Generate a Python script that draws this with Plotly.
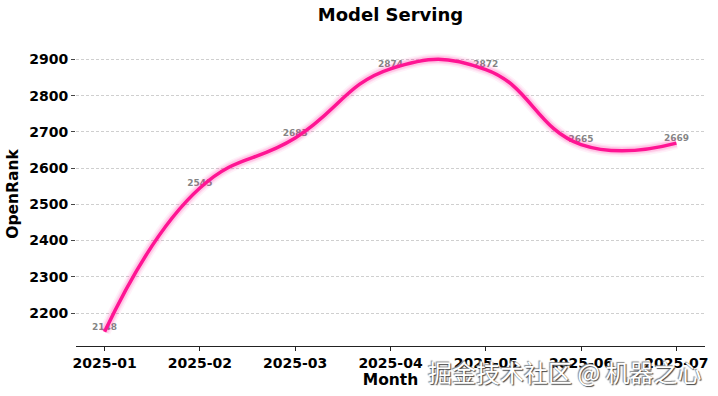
import plotly.graph_objects as go

months = ["2025-01", "2025-02", "2025-03", "2025-04", "2025-05", "2025-06", "2025-07"]
openrank = [2148, 2545, 2683, 2874, 2872, 2665, 2669]
y_ticks = [2200, 2300, 2400, 2500, 2600, 2700, 2800, 2900]

FONT = "DejaVu Sans"
PINK = "#FF1493"
L, R, T, B = 76, 705, 42, 346

fig = go.Figure()

# value labels (drawn under the line)
fig.add_trace(go.Scatter(
    x=months, y=openrank, mode="text",
    text=[str(v) for v in openrank], textposition="top center",
    textfont=dict(family=FONT, size=9, color="rgba(110,110,110,0.85)", weight="bold"),
    hoverinfo="skip", showlegend=False,
))

# glow layers
for w, a in [(12, 0.06), (9, 0.08), (7, 0.12)]:
    fig.add_trace(go.Scatter(
        x=months, y=openrank, mode="lines",
        line=dict(color=f"rgba(255,20,147,{a})", width=w, shape="spline", smoothing=1.3),
        hoverinfo="skip", showlegend=False,
    ))

fig.add_trace(go.Scatter(
    x=months, y=openrank, mode="lines",
    line=dict(color=PINK, width=3.5, shape="spline", smoothing=1.3),
    showlegend=False,
))

fig.update_layout(
    width=718, height=396,
    margin=dict(l=L, r=718 - R, t=T, b=396 - B),
    paper_bgcolor="white", plot_bgcolor="white",
    font=dict(family=FONT, color="black"),
    title=dict(text="<b>Model Serving</b>", x=(L + R) / 2 / 718, xanchor="center",
               y=1 - 15 / 396, yanchor="middle", font=dict(size=18, family=FONT)),
    annotations=[dict(
        text="掘金技术社区 @ 机器之心",
        x=(703 - L) / (R - L), y=(B - 371) / (B - T), xref="paper", yref="paper",
        showarrow=False,
        font=dict(family="Noto Sans CJK SC", size=24, color="white",
                  shadow="1px 1px 1px #444, -1px -1px 1px #888"),
        xanchor="right", yanchor="middle",
    )],
)

fig.update_xaxes(
    type="category", range=[-0.3, 6.3], automargin=False,
    showline=True, linecolor="#222", linewidth=1,
    ticks="outside", ticklen=4, tickcolor="#222",
    showgrid=False, zeroline=False,
    tickfont=dict(size=14, family=FONT, weight="bold"),
    title=dict(text="<b>Month</b>", font=dict(size=15.5, family=FONT), standoff=3),
)
fig.update_yaxes(
    range=[2109, 2948], tickvals=y_ticks, automargin=False,
    showline=False, zeroline=False,
    ticks="outside", ticklen=4, tickcolor="#444",
    showgrid=True, gridcolor="#cfcfcf", griddash="3px,2px", gridwidth=0.8,
    tickfont=dict(size=14, family=FONT, weight="bold"),
    title=dict(text="<b>OpenRank</b>", font=dict(size=15.5, family=FONT), standoff=6),
)

fig.write_html("out.html", config={"displayModeBar": False})

with open("out.html", encoding="utf-8") as f:
    html = f.read()
html = html.replace("<body>", '<body style="margin:0;padding:0;">', 1)
with open("out.html", "w", encoding="utf-8") as f:
    f.write(html)
